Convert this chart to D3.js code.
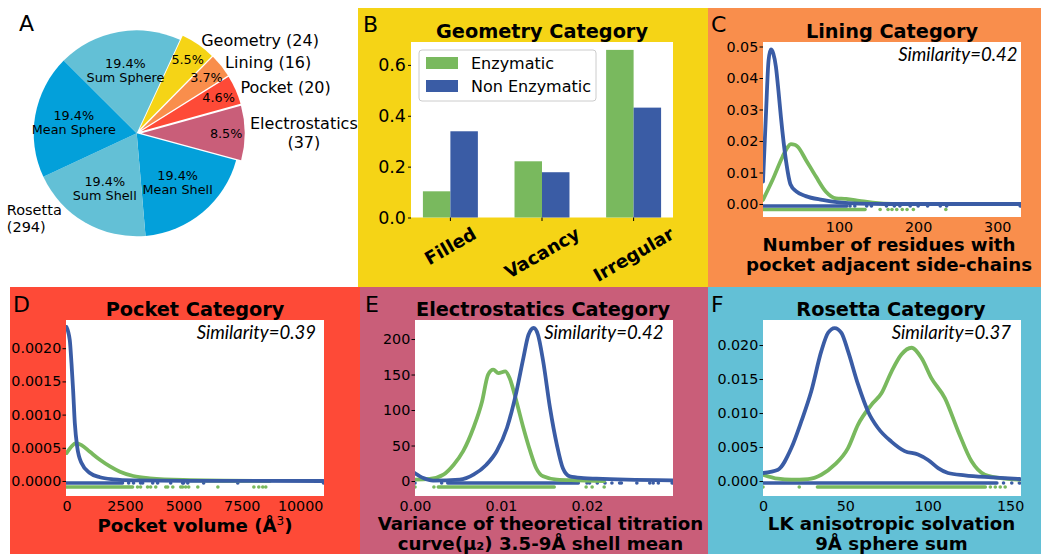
<!DOCTYPE html>
<html>
<head>
<meta charset="utf-8">
<script src="https://cdn.jsdelivr.net/npm/d3@7"></script>
<style>
  body { margin: 0; background: #fff; }
  svg { display: block; font-family: "DejaVu Sans", sans-serif; }
</style>
</head>
<body>
<svg id="fig" width="1041" height="554"></svg>
<script>
// ---------- A: feature composition ----------
const pieLabels   = ["Geometry", "Lining", "Pocket", "Electrostatics", "Mean Shell", "Sum Shell", "Mean Sphere", "Sum Sphere"];
const piePercents = [5.5, 3.7, 4.6, 8.5, 19.4, 19.4, 19.4, 19.4];
const pieColors   = ["#f5d416", "#f98e4c", "#fe4a37", "#c95e79", "#03a0da", "#63c0d6", "#03a0da", "#63c0d6"];
const categoryNames  = ["Geometry", "Lining", "Pocket", "Electrostatics", "Rosetta"];
const categoryCounts = [24, 16, 20, 37, 294];

// ---------- B: geometry category ----------
const geometryTypes  = ["Filled", "Vacancy", "Irregular"];
const geometryEnz    = [0.103, 0.221, 0.659];
const geometryNonEnz = [0.339, 0.178, 0.432];
const geometryTicks  = [0.0, 0.2, 0.4, 0.6];
const seriesNames    = ["Enzymatic", "Non Enzymatic"];

// ---------- C: lining category ----------
const liningEnzX    = [4, 16, 28.7, 35, 39.2, 44, 47.7, 58.2, 70.9, 83.5, 96.2, 108.9, 125.7, 142.6, 168, 200, 235];
const liningEnzY    = [0.0013, 0.0076, 0.0150, 0.0180, 0.0190, 0.0188, 0.0182, 0.0140, 0.0087, 0.0039, 0.0018, 0.0016, 0.0010, 0.0004, 0, 0, 0];
const liningNonX    = [4, 7.6, 11, 13.9, 17, 20.3, 23.5, 26.6, 32.9, 38.8, 46, 58, 79, 100, 125, 160, 240, 330];
const liningNonY    = [0.0071, 0.0277, 0.0455, 0.0491, 0.0478, 0.0436, 0.0360, 0.0277, 0.0140, 0.0062, 0.0040, 0.0025, 0.0013, 0.0005, 0.0001, 0, 0, 0];
const liningEnzRugSpans = [[4, 133]];
const liningEnzRug      = [152, 162, 167, 173, 180, 186, 194, 235];
const liningNonRugSpans = [[4, 110]];
const liningNonRug      = [114, 120, 135, 141, 160, 170, 177, 190, 200, 212, 228, 236, 329];
const liningXTicks = [100, 200, 300];
const liningYTicks = [0, 0.01, 0.02, 0.03, 0.04, 0.05];

// ---------- D: pocket category ----------
const pocketEnzX = [0, 214, 400, 643, 1000, 1430, 1860, 2290, 2860, 3570, 5000, 8700];
const pocketEnzY = [0.00042, 0.00052, 0.00057, 0.00054, 0.00044, 0.00032, 0.00022, 0.00014, 0.000075, 0.00004, 0.000015, 0];
const pocketNonX = [0, 141, 214, 283, 356, 455, 643, 1000, 1430, 2000, 2860, 5000, 11000];
const pocketNonY = [0.00232, 0.00212, 0.00177, 0.00137, 0.00087, 0.00052, 0.00027, 0.00012, 0.000056, 0.000025, 0.00001, 0.000003, 0];
const pocketEnzRugSpans = [[0, 2830]];
const pocketEnzRug      = [3040, 3170, 3470, 3600, 3820, 4250, 4330, 4550, 4890, 4970, 5100, 5230, 5620, 6480, 8020, 8230, 8400, 8530];
const pocketNonRugSpans = [[0, 2400]];
const pocketNonRug      = [2660, 2870, 3170, 3260, 3690, 3900, 4460, 4970, 5010, 5190, 5870, 7330, 11000];
const pocketXTicks = [0, 2500, 5000, 7500, 10000];
const pocketYTicks = [0, 0.0005, 0.0010, 0.0015, 0.0020];

// ---------- E: electrostatics category ----------
const elecEnzX = [0, 0.0017, 0.0033, 0.0045, 0.0056, 0.0068, 0.0078, 0.0085, 0.0091, 0.0097, 0.0105, 0.0110, 0.0118, 0.0126, 0.0134, 0.0141, 0.0149, 0.0165, 0.0188, 0.0220];
const elecEnzY = [2, 3, 9, 23, 42, 75, 112, 150, 157, 152, 154.5, 145, 112, 75, 42, 18, 6.6, 2, 1, 0];
const elecNonX = [0, 0.00097, 0.0021, 0.0052, 0.0068, 0.0083, 0.0095, 0.0107, 0.0118, 0.0126, 0.0132, 0.0138, 0.0143, 0.0149, 0.0157, 0.0165, 0.0172, 0.0180, 0.0196, 0.0211, 0.0246, 0.0299];
const elecNonY = [11, 4.2, 0.5, 2, 9, 23, 42, 75, 126, 173, 206, 215.5, 206, 169, 103, 51, 18, 6.6, 4.2, 3.3, 1.9, 1];
const elecEnzRugSpans = [[0.0027, 0.0162]];
const elecEnzRug      = [0, 0.0022, 0.0199, 0.0206, 0.0220];
const elecNonRugSpans = [[0.0038, 0.0190]];
const elecNonRug      = [0, 0.0031, 0.0200, 0.0203, 0.0212, 0.0221, 0.0229, 0.0238, 0.0240, 0.0258, 0.0273, 0.0277, 0.0283, 0.0299];
const elecXTicks = [0, 0.01, 0.02];
const elecYTicks = [0, 50, 100, 150, 200];

// ---------- F: rosetta category ----------
const rosEnzX = [0, 9.1, 17.2, 27.3, 35.4, 43.5, 51.6, 57.7, 65.8, 71.9, 78, 84, 90.1, 96.2, 102.3, 110.4, 118.5, 126.6, 134.7, 146.9, 155.9];
const rosEnzY = [0.00093, 0.00034, 0.0002, 0.00029, 0.00093, 0.0024, 0.00485, 0.0083, 0.0112, 0.0129, 0.0161, 0.0186, 0.0196, 0.0181, 0.0151, 0.0122, 0.0073, 0.0029, 0.00093, 0.00034, 0.0002];
const rosNonX = [0, 9.1, 17.2, 23.3, 29.3, 35.4, 39.5, 43.5, 47.6, 51.6, 57.7, 63.8, 69.8, 77.9, 86, 94.1, 100.2, 106.3, 112.3, 122.5, 138.6, 155.9];
const rosNonY = [0.00118, 0.00167, 0.00485, 0.0088, 0.0132, 0.0191, 0.0218, 0.0225, 0.0218, 0.0191, 0.0142, 0.0102, 0.0078, 0.0058, 0.0044, 0.0039, 0.0031, 0.0019, 0.00118, 0.00083, 0.00054, 0.0003];
const rosEnzRugSpans = [[33, 135]];
const rosEnzRug      = [0, 22, 138, 141, 144, 147];
const rosNonRugSpans = [[0, 142]];
const rosNonRug      = [146, 151, 155.6];
const rosXTicks = [0, 50, 100, 150];
const rosYTicks = [0, 0.005, 0.010, 0.015, 0.020];

const similarity = { lining: 0.42, pocket: 0.39, elec: 0.42, rosetta: 0.37 };

// ---------- drawing ----------
const GREEN = "#79b95e", BLUE = "#3a5ca5";
const svg = d3.select("#fig");
const FONT = "DejaVu Sans";
const TITLE_SIZE = 19.3, XLABEL_SIZE = 18.2, TICK_SIZE = 14.3;

function panelLetter(x, y, t) {
  svg.append("text").attr("x", x).attr("y", y).attr("font-size", 22).text(t);
}

// Panel A: pie of feature categories
(function () {
  panelLetter(19, 31, "A");
  const cx = 136.7, cy = 133.3, R = 103, EXPLODE = 5;
  const start = 24.8 * Math.PI / 180;
  const arcs = d3.pie().sort(null).value(d => d)
    .startAngle(start).endAngle(start + 2 * Math.PI)(piePercents);
  const arc = d3.arc().innerRadius(0).outerRadius(R);
  const g = svg.append("g").attr("transform", `translate(${cx},${cy})`);
  const isRosettaPart = i => i >= 4;

  arcs.forEach((a, i) => {
    const mid = (a.startAngle + a.endAngle) / 2;
    const off = isRosettaPart(i) ? 0 : EXPLODE;
    const sg = g.append("g").attr("transform", `translate(${Math.sin(mid) * off},${-Math.cos(mid) * off})`);
    sg.append("path").attr("d", arc(a)).attr("fill", pieColors[i]);
    const lr = isRosettaPart(i) ? 0.62 * R : 0.82 * R;
    const lines = [a.data.toFixed(1) + "%"];
    if (isRosettaPart(i)) lines.push(pieLabels[i]);
    const t = sg.append("text").attr("text-anchor", "middle").attr("font-size", 12.8);
    const lh = 14.5, top = -(lines.length - 1) * lh / 2;
    lines.forEach((ln, k) => t.append("tspan").attr("x", Math.sin(mid) * lr)
      .attr("y", -Math.cos(mid) * lr + top + k * lh).attr("dy", "0.35em").text(ln));
  });

  // category labels outside the pie
  categoryNames.forEach((name, ci) => {
    const wrap = name.length > 10 || categoryCounts[ci] > 100;
    const lines = wrap ? [name, `(${categoryCounts[ci]})`] : [`${name} (${categoryCounts[ci]})`];
    const size = ci < 4 ? 16 : 14.5;
    const lineH = size * 1.15;
    let ang;
    if (ci < 4) {
      const a = arcs[ci];
      ang = (a.startAngle + a.endAngle) / 2;
    } else {
      ang = 221.4 * Math.PI / 180;
    }
    const rad = 1.1 * R;
    const ax = Math.sin(ang) * rad, ay = -Math.cos(ang) * rad;
    const t = g.append("text").attr("font-size", size);
    const spans = lines.map((ln, k) => t.append("tspan")
      .attr("y", ay + (k - (lines.length - 1) / 2) * lineH).attr("dy", "0.35em").text(ln));
    const widths = spans.map(s => s.node().getComputedTextLength());
    const maxW = d3.max(widths);
    if (ci < 4) {
      // left-anchored block, lines centred within it
      spans.forEach((s, k) => s.attr("x", ax + (maxW - widths[k]) / 2));
    } else {
      // right-anchored block, lines left-aligned within it
      spans.forEach(s => s.attr("x", ax - maxW));
    }
  });
})();

// Panel B: grouped bars
(function () {
  svg.append("rect").attr("x", 358).attr("y", 8).attr("width", 350).attr("height", 279).attr("fill", "#f5d416");
  panelLetter(363, 32, "B");
  const left = 411, right = 673, top = 42, bottom = 217.5;
  svg.append("rect").attr("x", left).attr("y", top).attr("width", right - left).attr("height", bottom - top).attr("fill", "#fff");
  svg.append("text").attr("x", (left + right) / 2).attr("y", 38).attr("text-anchor", "middle")
    .attr("font-weight", "bold").attr("font-size", TITLE_SIZE).text("Geometry Category");

  const x = d3.scaleLinear().domain([-0.43, 2.43]).range([left, right]);
  const y = d3.scaleLinear().domain([0, 0.69]).range([bottom, top]);
  const bw = 0.3;
  const g = svg.append("g");
  g.selectAll(".enz").data(geometryEnz).join("rect")
    .attr("x", (d, i) => x(i - bw)).attr("width", (d, i) => x(i) - x(i - bw))
    .attr("y", d => y(d)).attr("height", d => y(0) - y(d)).attr("fill", GREEN);
  g.selectAll(".non").data(geometryNonEnz).join("rect")
    .attr("x", (d, i) => x(i)).attr("width", (d, i) => x(i + bw) - x(i))
    .attr("y", d => y(d)).attr("height", d => y(0) - y(d)).attr("fill", BLUE);

  const ya = svg.append("g").attr("transform", `translate(${left},0)`)
    .call(d3.axisLeft(y).tickValues(geometryTicks).tickFormat(d3.format(".1f")).tickSize(3).tickPadding(2));
  ya.select(".domain").remove();
  ya.attr("font-size", 17.5).attr("font-family", FONT);
  ya.selectAll("line").attr("stroke", "#000");
  ya.selectAll("text").attr("fill", "#000");

  // category ticks and rotated bold labels
  geometryTypes.forEach((name, i) => {
    svg.append("line").attr("x1", x(i)).attr("x2", x(i)).attr("y1", bottom).attr("y2", bottom + 3.5).attr("stroke", "#000");
    const t = svg.append("text").attr("font-weight", "bold").attr("font-size", 18)
      .attr("text-anchor", "middle").attr("dy", "0.35em").text(name);
    const len = t.node().getComputedTextLength();
    const rot = 30 * Math.PI / 180;
    const h = 15;
    const cy = bottom + 8 + (len * Math.sin(rot) + h * Math.cos(rot)) / 2;
    t.attr("transform", `translate(${x(i)},${cy}) rotate(-30)`);
  });

  // legend
  const lg = svg.append("g");
  lg.append("rect").attr("x", 419).attr("y", 50).attr("width", 177).attr("height", 51)
    .attr("rx", 3).attr("fill", "#fff").attr("fill-opacity", 0.8).attr("stroke", "#cccccc");
  [GREEN, BLUE].forEach((c, k) => {
    lg.append("rect").attr("x", 426).attr("y", 57 + k * 23).attr("width", 32).attr("height", 12).attr("fill", c);
    lg.append("text").attr("x", 471).attr("y", 69 + k * 23).attr("font-size", 16).text(seriesNames[k]);
  });
})();

// Panels C-F: density curves with rug marks
function densityPanel(o) {
  const g = svg.append("g");
  g.append("rect").attr("x", o.bg[0]).attr("y", o.bg[1]).attr("width", o.bg[2]).attr("height", o.bg[3]).attr("fill", o.bgColor);
  g.append("text").attr("x", o.letterPos[0]).attr("y", o.letterPos[1]).attr("font-size", 22).text(o.letter);
  const [px, py, pw, ph] = o.plot;
  g.append("rect").attr("x", px).attr("y", py).attr("width", pw).attr("height", ph).attr("fill", "#fff");
  g.append("text").attr("x", o.titleX).attr("y", o.titleY).attr("text-anchor", "middle")
    .attr("font-weight", "bold").attr("font-size", TITLE_SIZE).text(o.title);

  const x = d3.scaleLinear().domain(o.xDomain).range(o.xRange);
  const y = d3.scaleLinear().domain(o.yDomain).range([py + ph, py]);

  const clipId = "clip" + o.letter;
  svg.append("clipPath").attr("id", clipId).append("rect")
    .attr("x", px).attr("y", py).attr("width", pw).attr("height", ph);
  const pg = g.append("g").attr("clip-path", `url(#${clipId})`);

  o.series.forEach(s => {
    const yr = y(0) + s.rugOffset;
    pg.selectAll(null).data(s.rugSpans).join("line")
      .attr("x1", d => x(d[0])).attr("x2", d => x(d[1])).attr("y1", yr).attr("y2", yr)
      .attr("stroke", s.color).attr("stroke-width", 3.4).attr("stroke-linecap", "round");
    pg.selectAll(null).data(s.rug).join("circle")
      .attr("cx", d => x(d)).attr("cy", yr).attr("r", 1.8).attr("fill", s.color);
  });
  const line = d3.line().x(d => x(d[0])).y(d => y(d[1])).curve(d3.curveMonotoneX);
  o.series.forEach(s => {
    pg.append("path").attr("d", line(d3.zip(s.xs, s.ys))).attr("fill", "none")
      .attr("stroke", s.color).attr("stroke-width", 3.8).attr("stroke-linejoin", "round").attr("stroke-linecap", "round");
  });

  const ya = g.append("g").attr("transform", `translate(${px},0)`)
    .call(d3.axisLeft(y).tickValues(o.yTicks).tickFormat(o.yFormat).tickSize(3.5).tickPadding(1.2));
  ya.select(".domain").remove();
  ya.attr("font-size", TICK_SIZE).attr("font-family", FONT);
  ya.selectAll("line").attr("stroke", "#000");
  ya.selectAll("text").attr("fill", "#000");

  const xa = g.append("g").attr("transform", `translate(0,${py + ph})`)
    .call(d3.axisBottom(x).tickValues(o.xTicks).tickFormat(o.xFormat).tickSize(0).tickPadding(5));
  xa.select(".domain").remove();
  xa.attr("font-size", TICK_SIZE).attr("font-family", FONT);
  xa.selectAll("text").attr("fill", "#000");

  g.append("text").attr("x", o.simPos[0]).attr("y", o.simPos[1]).attr("text-anchor", "end")
    .attr("font-family", "Lato, 'Open Sans', sans-serif").attr("font-style", "italic").attr("font-size", 18.5)
    .text(`Similarity=${o.similarity.toFixed(2)}`);

  const xl = g.append("text").attr("text-anchor", "middle").attr("font-weight", "bold").attr("font-size", XLABEL_SIZE);
  o.xLabel.forEach((ln, k) => {
    const tsp = xl.append("tspan").attr("x", o.xLabelX).attr("y", o.xLabelY + k * 20.5);
    if (typeof ln === "string") tsp.text(ln);
    else ln(tsp);
  });
}

function series(xs, ys, rugSpans, rug, color, rugOffset) {
  return { xs, ys, rugSpans, rug, color, rugOffset };
}

densityPanel({
  letter: "C", letterPos: [711, 32], bg: [708, 8, 333, 279], bgColor: "#f98e4c",
  plot: [763, 42, 258, 175], title: "Lining Category", titleX: 892, titleY: 38,
  xDomain: [4, 330], xRange: [763, 1021], yDomain: [-0.00413, 0.05143],
  xTicks: liningXTicks, yTicks: liningYTicks, xFormat: d3.format("d"), yFormat: d3.format(".2f"),
  similarity: similarity.lining, simPos: [1017.5, 61],
  xLabel: ["Number of residues with", "pocket adjacent side-chains"], xLabelX: 889, xLabelY: 250.5,
  series: [
    series(liningEnzX, liningEnzY, liningEnzRugSpans, liningEnzRug, GREEN, 5.5),
    series(liningNonX, liningNonY, liningNonRugSpans, liningNonRug, BLUE, 2)
  ]
});

densityPanel({
  letter: "D", letterPos: [13, 312], bg: [10, 287, 350, 267], bgColor: "#fe4a37",
  plot: [66, 320, 258, 176], title: "Pocket Category", titleX: 195, titleY: 316,
  xDomain: [0, 11000], xRange: [66.5, 323.5], yDomain: [-0.000226, 0.002425],
  xTicks: pocketXTicks, yTicks: pocketYTicks, xFormat: d3.format("d"), yFormat: d3.format(".4f"),
  similarity: similarity.pocket, simPos: [316, 339],
  xLabel: [t => { t.text("Pocket volume (Å"); t.append("tspan").attr("font-size", 12).attr("font-weight", "normal").attr("dy", -6.5).text("3"); t.append("tspan").attr("dy", 6.5).text(")"); }],
  xLabelX: 195, xLabelY: 531.5,
  series: [
    series(pocketEnzX, pocketEnzY, pocketEnzRugSpans, pocketEnzRug, GREEN, 6),
    series(pocketNonX, pocketNonY, pocketNonRugSpans, pocketNonRug, BLUE, 2)
  ]
});

densityPanel({
  letter: "E", letterPos: [365, 312], bg: [360, 287, 348, 267], bgColor: "#c95e79",
  plot: [415, 320, 258, 176], title: "Electrostatics Category", titleX: 543, titleY: 316,
  xDomain: [0, 0.0299], xRange: [415, 672.1], yDomain: [-21.1, 226.8],
  xTicks: elecXTicks, yTicks: elecYTicks, xFormat: d3.format(".2f"), yFormat: d3.format("d"),
  similarity: similarity.elec, simPos: [663.5, 338.5],
  xLabel: ["Variance of theoretical titration", "curve(μ₂) 3.5-9Å shell mean"], xLabelX: 540.5, xLabelY: 529.5,
  series: [
    series(elecEnzX, elecEnzY, elecEnzRugSpans, elecEnzRug, GREEN, 6),
    series(elecNonX, elecNonY, elecNonRugSpans, elecNonRug, BLUE, 2)
  ]
});

densityPanel({
  letter: "F", letterPos: [711, 312], bg: [708, 287, 333, 267], bgColor: "#63c0d6",
  plot: [763, 320, 258, 176], title: "Rosetta Category", titleX: 891, titleY: 316,
  xDomain: [0, 156], xRange: [763, 1020], yDomain: [-0.0022, 0.02368],
  xTicks: rosXTicks, yTicks: rosYTicks, xFormat: d3.format("d"), yFormat: d3.format(".3f"),
  similarity: similarity.rosetta, simPos: [1011, 338.5],
  xLabel: ["LK anisotropic solvation", "9Å sphere sum"], xLabelX: 891.5, xLabelY: 529.5,
  series: [
    series(rosEnzX, rosEnzY, rosEnzRugSpans, rosEnzRug, GREEN, 6),
    series(rosNonX, rosNonY, rosNonRugSpans, rosNonRug, BLUE, 2)
  ]
});
</script>
</body>
</html>
